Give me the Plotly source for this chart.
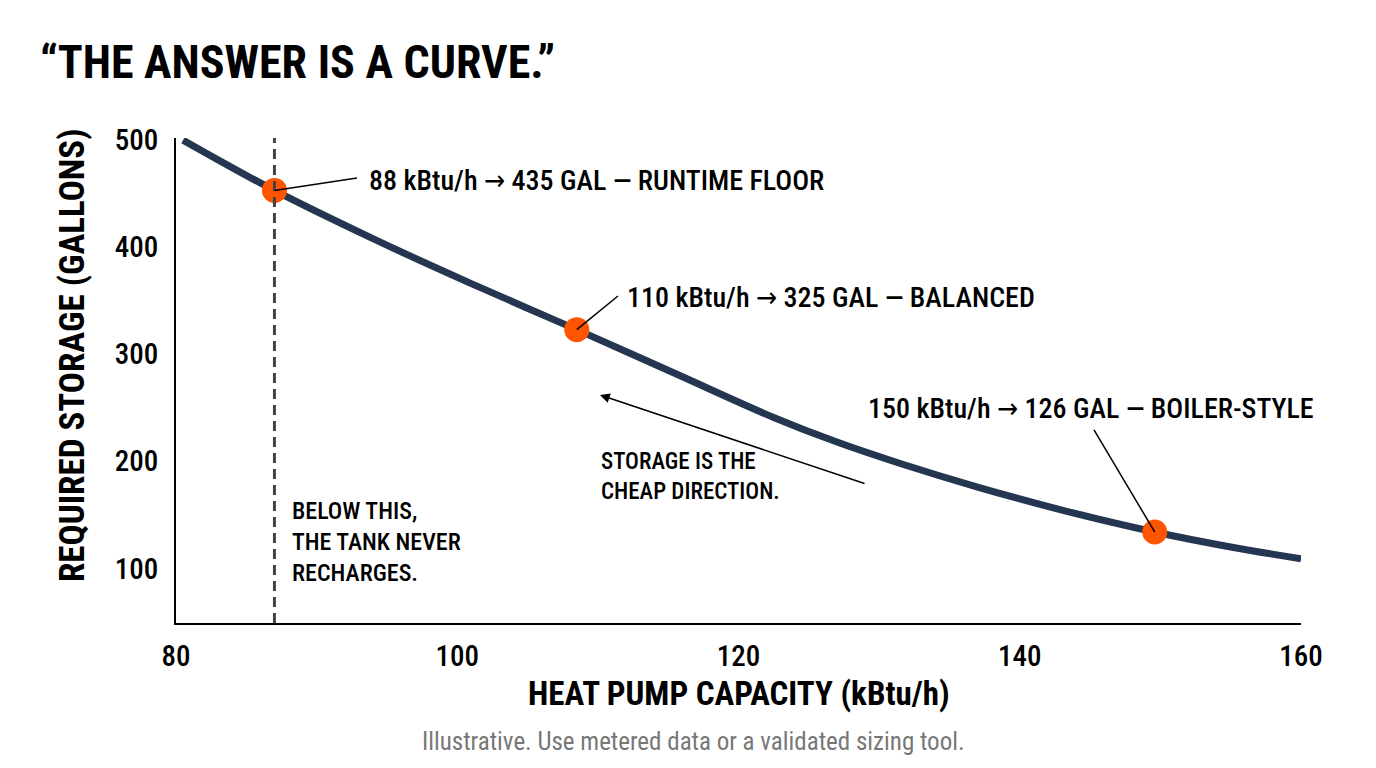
import plotly.graph_objects as go

# curve
capacity = [80.5, 87.0, 94.0, 101.0, 108.5, 115.5, 122.5, 127.0,
            131.5, 137.0, 143.0, 149.6, 155.0, 160.0]
storage = [500, 453, 408, 366, 323, 282, 241, 218,
           198, 176, 154.5, 134, 120, 109]

# highlighted operating points
pt_capacity = [87.0, 108.5, 149.6]
pt_storage = [453, 323, 134]
pt_labels = [
    "88 kBtu/h → 435 GAL — RUNTIME FLOOR",
    "110 kBtu/h → 325 GAL — BALANCED",
    "150 kBtu/h → 126 GAL — BOILER-STYLE",
]

x_ticks = [80, 100, 120, 140, 160]
y_ticks = [100, 200, 300, 400, 500]

floor_x = 87.0

FONT = "Roboto Condensed, Liberation Sans Narrow, Roboto, sans-serif"
NAVY = "#253650"
ORANGE = "#FF5500"


def px_x(px):
    # page pixel -> paper x
    return (px - 176) / 1125


def px_y(py):
    return (623 - py) / 485


fig = go.Figure()

# runtime floor line
fig.add_shape(type="line", x0=floor_x, x1=floor_x, y0=49, y1=502,
              line=dict(color="#444444", width=3, dash="10px,6px"))

# leader lines (label end -> point)
leaders = [(92.87, 464.6), (111.43, 354.4), (145.28, 229.3)]
for (lx, ly), px, py in zip(leaders, pt_capacity, pt_storage):
    fig.add_shape(type="line", x0=lx, y0=ly, x1=px, y1=py,
                  line=dict(color="black", width=1.5))

fig.add_trace(go.Scatter(x=capacity, y=storage, mode="lines",
                         line=dict(color=NAVY, width=7, shape="spline", smoothing=1.0),
                         hoverinfo="skip"))

fig.add_trace(go.Scatter(x=pt_capacity, y=pt_storage, mode="markers",
                         marker=dict(color=ORANGE, size=25),
                         hoverinfo="skip"))

# point labels (arrow glyph in a font that draws it full size)
label_pos = [(93.58, 461.9), (111.93, 352.6), (129.07, 249.8)]
for (tx, ty), txt in zip(label_pos, pt_labels):
    txt = txt.replace("→", '<span style="font-family:DejaVu Sans Condensed, DejaVu Sans">→</span>')
    fig.add_annotation(x=tx, y=ty, text=txt, showarrow=False,
                       xanchor="left", yanchor="middle",
                       font=dict(family=FONT, size=28, weight=500, color="black"))

# arrow pointing toward the storage side
fig.add_annotation(x=110.15, y=262.0, ax=129.07, ay=178.8,
                   xref="x", yref="y", axref="x", ayref="y",
                   text="", showarrow=True, arrowhead=2, arrowsize=1.3,
                   arrowwidth=1.5, arrowcolor="black")

fig.add_annotation(x=110.08, y=185.4, text="STORAGE IS THE<br>CHEAP DIRECTION.",
                   showarrow=False, xanchor="left", yanchor="middle", align="left",
                   font=dict(family=FONT, size=23, weight=500, color="black"))

fig.add_annotation(x=88.1, y=124.7, text="BELOW THIS,<br>THE TANK NEVER<br>RECHARGES.",
                   showarrow=False, xanchor="left", yanchor="middle", align="left",
                   font=dict(family=FONT, size=24, weight=500, color="black"))

# title, axis titles, footnote
fig.add_annotation(x=px_x(38), y=px_y(62), xref="paper", yref="paper",
                   text="<b>“THE ANSWER IS A CURVE.”</b>",
                   showarrow=False, xanchor="left", yanchor="middle",
                   font=dict(family=FONT, size=46, color="black"))
fig.add_annotation(x=px_x(72), y=px_y(355), xref="paper", yref="paper",
                   text="<b>REQUIRED STORAGE (GALLONS)</b>", textangle=-90, showarrow=False,
                   xanchor="center", yanchor="middle",
                   font=dict(family=FONT, size=35, color="black"))
fig.add_annotation(x=0.5, y=px_y(693), xref="paper", yref="paper",
                   text="<b>HEAT PUMP CAPACITY (kBtu/h)</b>", showarrow=False,
                   xanchor="center", yanchor="middle",
                   font=dict(family=FONT, size=33, color="black"))
fig.add_annotation(x=px_x(693), y=px_y(741), xref="paper", yref="paper",
                   text="Illustrative. Use metered data or a validated sizing tool.",
                   showarrow=False, xanchor="center", yanchor="middle",
                   font=dict(family=FONT, size=25, color="#777777"))

# page body adds an 8px offset, so the figure is 8px smaller each way
fig.update_layout(
    width=1368, height=760,
    margin=dict(l=168, r=75, t=130, b=145),
    paper_bgcolor="white", plot_bgcolor="white",
    showlegend=False,
    font=dict(family=FONT, color="black"),
)

fig.update_xaxes(range=[80, 160], tickvals=x_ticks, showline=True, linecolor="black",
                 linewidth=2, showgrid=False, zeroline=False, ticks="", ticklabelstandoff=6,
                 tickfont=dict(family=FONT, size=29, weight=500, color="black"))
fig.update_yaxes(range=[49, 502], tickvals=y_ticks, showline=True, linecolor="black",
                 linewidth=2, showgrid=False, zeroline=False, ticks="", ticklabelstandoff=10,
                 tickfont=dict(family=FONT, size=29, weight=500, color="black"))

fig.write_html("out.html")
